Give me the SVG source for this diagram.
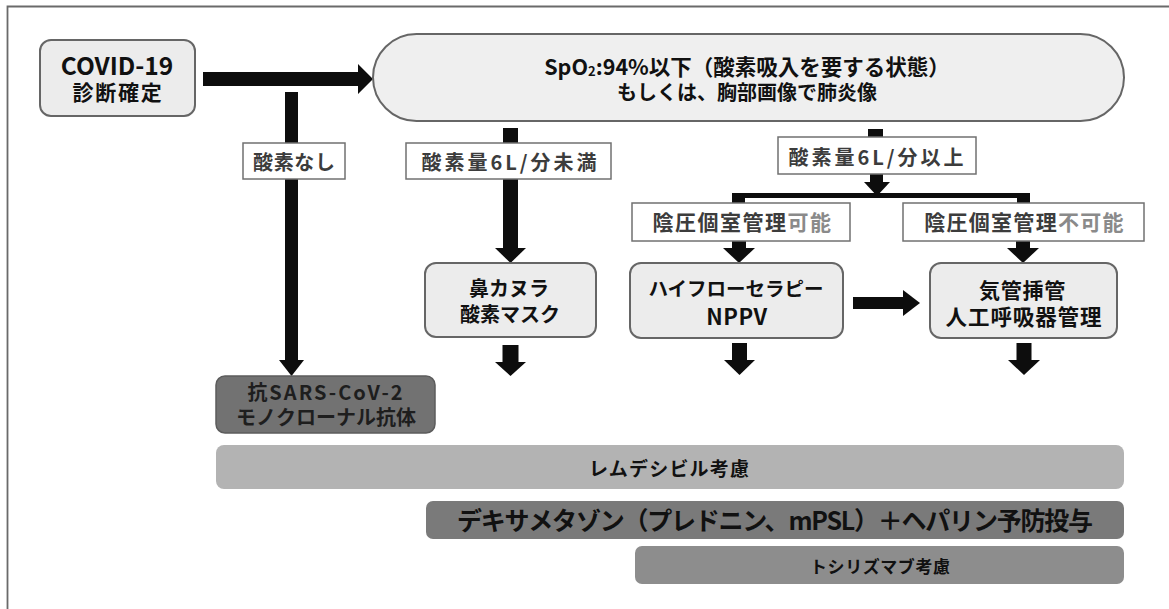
<svg xmlns="http://www.w3.org/2000/svg" width="1169" height="609" viewBox="0 0 1169 609">
<style>
text{font-family:"Noto Sans CJK JP","Noto Sans",sans-serif;font-weight:700;text-anchor:middle}
text,tspan{dominant-baseline:central}
.box{fill:#ececec;stroke:#666;stroke-width:2}
.lbl{fill:#fff;stroke:#707070;stroke-width:1.5}
.lt{fill:#3c3c3c}
.lite{fill:#8a8a8a}
.dk{fill:#111}
.arr{fill:#0d0d0d}
</style>
<rect width="1169" height="609" fill="#fff"/>
<path d="M7.5,609 V6.5 H1169" fill="none" stroke="#6a6a6a" stroke-width="1.8"/>

<g id="connectors" class="arr">
  <polygon points="203,72 358,72 358,64 373,79 358,94 358,86 203,86"/>
  <rect x="285" y="92" width="13" height="269"/>
  <polygon points="279,360 304,360 291.5,376"/>
  <rect x="503" y="128" width="15" height="121"/>
  <polygon points="495,248 526,248 510.5,263"/>
  <rect x="502.5" y="345" width="16" height="18"/>
  <polygon points="495,362 526,362 510.5,376"/>
  <rect x="868" y="129" width="15" height="9"/>
  <rect x="870" y="173" width="13" height="10"/>
  <polygon points="864,182 890,182 877,196"/>
  <rect x="732" y="193" width="298" height="5"/>
  <rect x="732" y="193" width="13" height="11"/>
  <rect x="1017" y="193" width="13" height="11"/>
  <rect x="732" y="240" width="14" height="9"/>
  <polygon points="723,248 755,248 739,263"/>
  <rect x="1016" y="240" width="14" height="9"/>
  <polygon points="1007,248 1039,248 1023,263"/>
  <rect x="853" y="297" width="51" height="12"/>
  <polygon points="903,290 903,316 920,303"/>
  <rect x="732" y="343" width="15" height="18"/>
  <polygon points="724,360 755,360 739.5,375"/>
  <rect x="1016.5" y="343" width="15" height="18"/>
  <polygon points="1008,360 1040,360 1024,375"/>
</g>

<g id="covid">
  <rect class="box" x="40" y="40" width="155" height="76" rx="11"/>
  <text class="dk"><tspan x="117" y="64" font-size="24.5">COVID-19</tspan><tspan x="118" y="91" font-size="21" letter-spacing="1.75">診断確定</tspan></text>
</g>

<g id="spo2">
  <rect x="373" y="34" width="751" height="87" rx="43.5" fill="#efefef" stroke="#666" stroke-width="2"/>
  <text class="dk" font-size="21.5"><tspan x="747" y="65">SpO</tspan><tspan font-size="13" dy="5">2</tspan><tspan dy="-5">:94%以下（酸素吸入を要する状態）</tspan><tspan x="747" y="91" font-size="20">もしくは、胸部画像で肺炎像</tspan></text>
</g>

<g id="label-no-o2">
  <rect class="lbl" x="243" y="143" width="102" height="36"/>
  <text class="lt" x="294" y="161.5" font-size="20" textLength="82">酸素なし</text>
</g>

<g id="label-lt6">
  <rect class="lbl" x="406" y="143" width="205" height="36"/>
  <text class="lt" x="509" y="161" font-size="20" textLength="175">酸素量6L/分未満</text>
</g>

<g id="label-ge6">
  <rect class="lbl" x="778" y="137" width="198" height="37"/>
  <text class="lt" x="876" y="156" font-size="20" textLength="175">酸素量6L/分以上</text>
</g>

<g id="label-possible">
  <rect class="lbl" x="632" y="203" width="218" height="38"/>
  <text class="lt" x="742.5" y="221" font-size="21" letter-spacing="1.5">陰圧個室管理<tspan class="lite">可能</tspan></text>
</g>

<g id="label-impossible">
  <rect class="lbl" x="903" y="203" width="241" height="38"/>
  <text class="lt" x="1024.5" y="221" font-size="21" letter-spacing="1.3">陰圧個室管理<tspan class="lite">不可能</tspan></text>
</g>

<g id="nasal">
  <rect class="box" x="425" y="263" width="171" height="74" rx="11"/>
  <text class="dk" font-size="20"><tspan x="509" y="286.5">鼻カヌラ</tspan><tspan x="510" y="312.5">酸素マスク</tspan></text>
</g>

<g id="hfnc">
  <rect class="box" x="630" y="263" width="213" height="75" rx="11"/>
  <text class="dk"><tspan x="736" y="287" font-size="19.5">ハイフローセラピー</tspan><tspan x="737" y="315" font-size="22" letter-spacing="0.5">NPPV</tspan></text>
</g>

<g id="intubation">
  <rect class="box" x="930" y="263" width="187" height="75" rx="11"/>
  <text class="dk"><tspan x="1022.5" y="288.5" font-size="21" letter-spacing="0.75">気管挿管</tspan><tspan x="1024" y="315" font-size="21.5" letter-spacing="0.9">人工呼吸器管理</tspan></text>
</g>

<g id="antibody">
  <rect x="216" y="376" width="219" height="57" rx="9" fill="#727272" stroke="#5c5c5c" stroke-width="1.5"/>
  <text font-size="20" fill="#1e1e1e"><tspan x="326" y="391" letter-spacing="2">抗SARS-CoV-2</tspan><tspan x="326" y="416">モノクローナル抗体</tspan></text>
</g>

<g id="remdesivir">
  <rect x="216" y="445" width="908" height="44" rx="8" fill="#b3b3b3"/>
  <text class="dk" x="669" y="467" font-size="19" textLength="160">レムデシビル考慮</text>
</g>

<g id="dexamethasone">
  <rect x="426" y="501" width="698" height="38" rx="7" fill="#7a7a7a"/>
  <text class="dk" x="775" y="519" font-size="25" textLength="636">デキサメタゾン（プレドニン、mPSL）＋ヘパリン予防投与</text>
</g>

<g id="tocilizumab">
  <rect x="635" y="546" width="489" height="38" rx="7" fill="#8d8d8d"/>
  <text class="dk" x="880" y="565.5" font-size="17" textLength="140">トシリズマブ考慮</text>
</g>
</svg>
